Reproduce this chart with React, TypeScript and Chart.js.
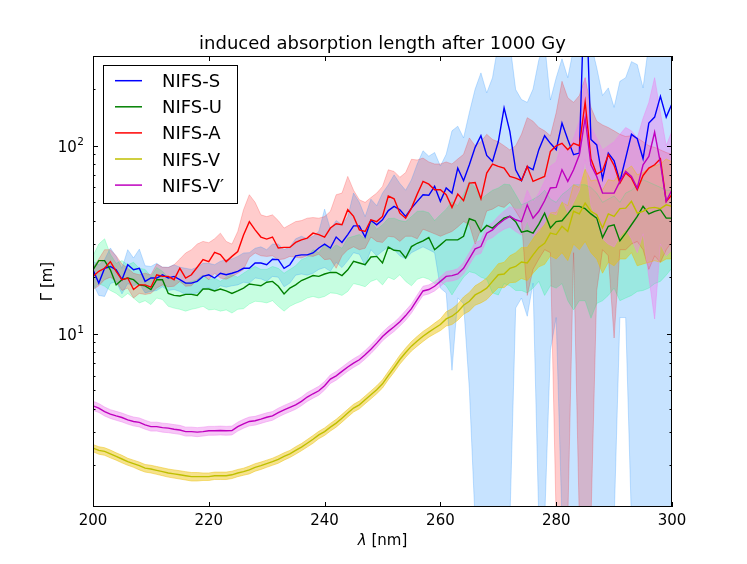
import React, { useEffect, useRef } from 'react';
import Chart from 'chart.js/auto';

// wavelength grid [nm]
const wavelengths = [
  200, 201, 202, 203, 204, 205, 206, 207, 208, 209,
  210, 211, 212, 213, 214, 215, 216, 217, 218, 219,
  220, 221, 222, 223, 224, 225, 226, 227, 228, 229,
  230, 231, 232, 233, 234, 235, 236, 237, 238, 239,
  240, 241, 242, 243, 244, 245, 246, 247, 248, 249,
  250, 251, 252, 253, 254, 255, 256, 257, 258, 259,
  260, 261, 262, 263, 264, 265, 266, 267, 268, 269,
  270, 271, 272, 273, 274, 275, 276, 277, 278, 279,
  280, 281, 282, 283, 284, 285, 286, 287, 288, 289,
  290, 291, 292, 293, 294, 295, 296, 297, 298, 299,
  300,
];

// induced absorption length [m], mean values
const nifsS = [
  21.9, 18.6, 22.3, 22.8, 21.9, 19.4, 23.3, 21.9, 22.3, 19.0,
  19.8, 19.8, 20.6, 19.8, 20.2, 19.4, 18.6, 18.6, 19.0, 20.2,
  20.6, 19.8, 21.0, 20.6, 21.0, 21.5, 22.3, 22.3, 23.8, 23.8,
  23.3, 24.9, 24.8, 22.3, 23.3, 26.0, 26.3, 26.3, 26.9, 28.6,
  30.0, 28.6, 32.7, 30.6, 33.7, 37.5, 37.5, 32.7, 40.1, 38.0,
  40.4, 45.2, 47.6, 45.7, 42.1, 46.6, 50.6, 54.9, 54.5, 60.8,
  50.6, 59.6, 56.0, 76.0, 65.2, 79.2, 98.0, 113, 88.8, 82.5,
  105, 159, 119, 74.5, 65.2, 77.6, 74.5, 95.3, 113, 103,
  95.3, 132, 108, 89.6, 91.4, 900, 108, 101, 66.7, 91.4,
  83.2, 64.6, 86.0, 115, 109, 85.3, 132, 142, 183, 142,
  167,
];
const nifsU = [
  21.9, 24.5, 24.5, 21.9, 18.2, 19.4, 19.8, 19.4, 18.2, 18.0,
  17.2, 19.4, 19.4, 16.4, 16.0, 15.9, 16.2, 16.2, 16.0, 17.3,
  17.3, 16.9, 17.3, 16.9, 16.4, 16.9, 17.5, 18.4, 18.2, 18.0,
  18.8, 19.0, 17.9, 16.3, 17.5, 18.2, 19.2, 19.8, 20.4, 20.2,
  20.8, 21.2, 21.2, 20.4, 21.9, 24.3, 23.8, 23.3, 25.6, 25.8,
  23.8, 28.9, 27.8, 27.6, 25.3, 29.1, 30.3, 31.2, 32.5, 28.0,
  29.7, 31.6, 31.6, 31.6, 33.0, 40.9, 39.9, 35.0, 37.7, 36.5,
  38.8, 41.2, 42.1, 39.5, 34.7, 35.3, 34.3, 38.3, 43.8, 36.5,
  39.5, 39.9, 43.4, 47.6, 47.6, 46.3, 43.4, 41.2, 32.5, 37.3,
  38.0, 31.2, 34.3, 38.0, 42.1, 47.6, 43.4, 44.8, 45.7, 41.2,
  41.2,
];
const nifsA = [
  20.2, 21.5, 22.3, 24.2, 21.5, 19.4, 19.8, 17.2, 18.2, 18.2,
  17.7, 20.6, 20.2, 20.2, 19.4, 22.3, 19.8, 20.6, 22.6, 24.8,
  24.2, 27.1, 26.4, 24.2, 25.8, 27.4, 33.5, 39.5, 35.7, 32.7,
  31.9, 32.7, 28.6, 28.8, 28.8, 30.6, 31.6, 32.3, 34.3, 33.7,
  32.7, 36.5, 38.5, 38.0, 45.7, 42.1, 35.7, 35.0, 40.4, 39.5,
  42.1, 54.0, 52.2, 43.8, 41.2, 46.6, 55.3, 64.6, 62.5, 58.3,
  58.3, 54.9, 47.0, 55.3, 51.0, 63.3, 63.8, 52.2, 71.6, 79.9,
  77.6, 76.0, 68.7, 67.3, 65.2, 77.6, 64.6, 66.7, 68.7, 93.3,
  100, 103, 95.3, 103, 100, 171, 85.3, 70.6, 73.6, 89.6,
  78.6, 63.3, 71.6, 67.3, 58.3, 69.5, 76.0, 79.2, 85.3, 50.6,
  54.9,
];
const nifsV = [
  2.47, 2.40, 2.37, 2.30, 2.23, 2.16, 2.09, 2.04, 1.99, 1.93,
  1.91, 1.88, 1.85, 1.82, 1.80, 1.78, 1.76, 1.74, 1.74, 1.74,
  1.74, 1.76, 1.76, 1.76, 1.78, 1.82, 1.85, 1.89, 1.95, 1.99,
  2.04, 2.09, 2.15, 2.23, 2.30, 2.40, 2.50, 2.62, 2.75, 2.90,
  3.02, 3.19, 3.35, 3.56, 3.79, 4.03, 4.19, 4.46, 4.74, 5.04,
  5.42, 6.00, 6.60, 7.30, 7.95, 8.60, 9.15, 9.70, 10.2, 10.7,
  11.2, 12.0, 12.4, 13.1, 14.2, 14.9, 16.1, 16.7, 17.5, 19.0,
  20.6, 20.8, 22.3, 22.8, 24.1, 23.8, 26.3, 28.8, 30.3, 34.3,
  33.7, 37.3, 35.0, 44.8, 43.4, 49.5, 44.8, 43.0, 36.5, 43.4,
  42.1, 46.3, 46.6, 50.6, 43.8, 44.8, 46.6, 47.0, 46.3, 48.5,
  47.6,
];
const nifsVp = [
  4.14, 4.03, 3.86, 3.74, 3.66, 3.59, 3.49, 3.42, 3.38, 3.28,
  3.21, 3.21, 3.17, 3.15, 3.11, 3.08, 3.02, 3.02, 3.00, 3.02,
  3.05, 3.05, 3.06, 3.05, 3.06, 3.21, 3.32, 3.42, 3.45, 3.52,
  3.60, 3.66, 3.81, 3.94, 4.06, 4.19, 4.37, 4.61, 4.80, 4.98,
  5.29, 5.74, 5.98, 6.31, 6.66, 6.99, 7.28, 7.73, 8.28, 8.92,
  9.68, 10.3, 10.9, 11.6, 12.5, 13.6, 15.2, 16.9, 17.2, 17.9,
  19.0, 20.2, 20.4, 20.8, 22.3, 25.1, 28.3, 29.1, 34.3, 35.7,
  38.3, 40.4, 42.1, 40.4, 39.5, 48.5, 41.2, 44.8, 51.0, 59.6,
  60.0, 74.5, 64.6, 74.5, 89.6, 140, 79.2, 68.7, 56.0, 56.0,
  56.0, 64.6, 73.0, 68.7, 59.6, 79.2, 87.7, 118, 80.9, 50.6,
  58.3,
];

// uncertainty bands (lower / upper); values under 1.2 or over 300 run off the axes
const nifsSLow = [
  18.5, 16.0, 15.8, 18.5, 19.0, 16.3, 18.5, 18.0, 18.5, 16.5,
  16.8, 17.0, 17.8, 17.0, 17.2, 16.8, 16.2, 16.3, 16.5, 17.3,
  17.6, 17.0, 18.0, 17.7, 18.0, 18.2, 18.8, 18.6, 19.8, 19.6,
  19.0, 20.2, 20.0, 17.8, 18.6, 20.5, 20.8, 20.5, 21.0, 22.0,
  22.5, 21.5, 24.0, 22.5, 24.5, 27.0, 26.5, 23.0, 28.0, 26.0,
  27.5, 29.0, 28.0, 26.0, 25.0, 27.0, 28.0, 29.0, 28.0, 27.0,
  17.5, 16.5, 6.4, 15.5, 14.5, 5.1, 1.0, 1.0, 1.0, 1.0,
  1.0, 1.0, 1.0, 13.7, 15.5, 12.4, 18.6, 1.0, 1.0, 8.2,
  12.2, 1.0, 1.0, 1.0, 1.0, 1.0, 1.0, 1.0, 1.0, 1.0,
  1.0, 12.2, 12.2, 1.0, 1.0, 1.0, 1.0, 1.0, 1.0, 1.0,
  1.0,
];
const nifsSHigh = [
  24.3, 23.3, 24.8, 28.6, 25.8, 22.3, 28.0, 25.3, 28.2, 23.0,
  22.8, 23.7, 22.6, 22.6, 23.3, 22.6, 22.3, 22.0, 22.6, 23.7,
  23.7, 23.3, 24.3, 24.8, 25.0, 25.8, 26.9, 27.0, 28.5, 29.0,
  28.0, 30.0, 30.0, 28.0, 29.0, 32.0, 33.0, 32.0, 33.0, 35.0,
  46.0, 36.0, 40.0, 38.0, 42.0, 56.0, 50.0, 42.0, 52.0, 48.0,
  56.0, 62.0, 70.0, 63.0, 58.0, 66.0, 80.0, 94.0, 88.0, 92.0,
  78.0, 90.0, 120, 127, 110, 150, 200, 244, 191, 230,
  350, 350, 350, 199, 176, 170, 200, 286, 350, 175,
  230, 290, 230, 330, 350, 350, 350, 260, 185, 203,
  160, 220, 230, 280, 270, 203, 350, 350, 350, 350,
  350,
];
const nifsULow = [
  17.2, 18.5, 17.9, 17.0, 16.4, 15.5, 16.4, 15.5, 14.6, 15.0,
  14.3, 15.5, 15.2, 14.0, 13.7, 13.5, 13.2, 13.5, 13.7, 14.0,
  13.4, 13.5, 13.2, 13.4, 12.9, 13.5, 13.6, 14.4, 14.9, 14.8,
  14.6, 15.0, 14.0, 13.2, 14.0, 14.5, 14.9, 15.5, 15.8, 15.5,
  15.8, 16.5, 16.4, 16.0, 16.8, 18.5, 18.2, 17.8, 19.0, 19.5,
  18.2, 20.0, 19.4, 20.6, 19.0, 18.0, 19.5, 20.0, 19.5, 18.5,
  19.0, 18.0, 16.1, 18.0, 20.0, 21.4, 21.0, 20.0, 19.5, 16.5,
  16.1, 18.5, 18.0, 17.0, 17.0, 16.5, 17.5, 19.0, 16.0, 18.0,
  17.5, 18.5, 15.0, 13.4, 15.0, 15.0, 12.1, 14.5, 15.0, 16.0,
  17.5, 15.0, 15.5, 16.0, 16.8, 17.0, 17.5, 18.5, 19.0, 20.5,
  22.4,
];
const nifsUHigh = [
  26.0, 30.0, 32.0, 26.5, 23.7, 24.5, 23.3, 24.0, 22.3, 22.0,
  20.2, 22.5, 21.5, 20.0, 19.4, 19.0, 18.6, 19.0, 19.4, 20.5,
  19.4, 19.8, 19.0, 20.0, 20.6, 20.0, 21.0, 22.0, 22.8, 22.0,
  22.0, 22.8, 22.3, 21.0, 22.0, 23.0, 24.8, 25.5, 28.0, 27.0,
  29.7, 28.0, 29.7, 28.5, 32.3, 33.0, 33.7, 32.0, 39.5, 36.0,
  38.0, 41.0, 41.2, 40.0, 39.5, 42.0, 44.8, 45.0, 44.0, 40.0,
  43.0, 46.0, 50.6, 48.0, 55.0, 64.6, 60.0, 52.0, 55.0, 58.0,
  59.6, 62.5, 62.0, 55.0, 48.5, 50.0, 52.0, 54.0, 58.0, 52.0,
  50.0, 55.0, 58.0, 62.0, 62.0, 62.0, 60.0, 56.0, 50.0, 52.0,
  54.0, 50.0, 56.0, 58.0, 62.0, 66.0, 64.0, 62.0, 60.0, 58.0,
  58.0,
];
const nifsALow = [
  17.2, 18.0, 19.4, 20.0, 19.0, 17.0, 17.5, 15.5, 16.4, 16.2,
  16.4, 17.5, 18.2, 17.8, 17.9, 19.0, 17.9, 18.0, 19.4, 20.5,
  19.4, 21.0, 19.8, 19.5, 20.2, 21.0, 22.0, 25.5, 26.9, 26.0,
  25.8, 26.0, 24.8, 25.0, 25.8, 25.5, 25.3, 26.0, 25.8, 26.5,
  24.8, 25.0, 22.3, 26.0, 28.0, 29.0, 28.0, 28.5, 32.7, 31.0,
  30.6, 33.0, 32.7, 31.0, 33.0, 33.0, 32.0, 36.0, 35.0, 34.0,
  33.0, 34.0, 35.0, 37.0, 39.5, 38.0, 30.0, 36.0, 45.0, 46.0,
  48.0, 47.0, 50.0, 45.0, 40.0, 16.0, 22.0, 25.0, 28.0, 27.0,
  1.0, 1.0, 1.0, 27.0, 1.0, 1.0, 1.0, 17.0, 28.0, 26.0,
  9.5, 28.0, 28.0, 30.0, 31.0, 28.0, 22.0, 26.0, 24.0, 28.0,
  31.0,
];
const nifsAHigh = [
  22.5, 25.0, 28.0, 28.0, 26.0, 23.5, 22.3, 21.0, 20.6, 21.0,
  20.6, 23.5, 22.6, 22.5, 23.3, 25.0, 26.9, 28.0, 30.0, 31.0,
  30.5, 32.0, 34.3, 31.0, 30.0, 35.0, 45.7, 54.9, 50.0, 42.9,
  42.0, 42.9, 40.0, 36.5, 38.0, 39.5, 40.0, 41.2, 41.5, 41.2,
  42.0, 44.8, 54.9, 56.0, 68.7, 58.0, 51.6, 50.0, 53.0, 56.0,
  60.8, 74.5, 73.0, 68.0, 72.0, 84.7, 84.0, 86.0, 82.0, 80.0,
  80.0, 82.0, 80.0, 85.0, 90.0, 110, 100, 105, 115, 108,
  105, 100, 95.0, 100, 115, 141, 135, 125, 120, 113,
  150, 220, 180, 170, 185, 230, 160, 135, 129, 125,
  120, 115, 112, 113, 110, 105, 100, 98.0, 95.0, 92.0,
  90.0,
];
const nifsVLow = [
  2.36, 2.29, 2.26, 2.19, 2.13, 2.06, 2.00, 1.95, 1.89, 1.84,
  1.82, 1.79, 1.76, 1.73, 1.71, 1.69, 1.67, 1.65, 1.65, 1.66,
  1.66, 1.68, 1.68, 1.68, 1.70, 1.74, 1.77, 1.80, 1.86, 1.90,
  1.95, 2.00, 2.05, 2.13, 2.20, 2.29, 2.39, 2.50, 2.62, 2.77,
  2.88, 3.04, 3.19, 3.39, 3.61, 3.84, 3.99, 4.25, 4.51, 4.80,
  5.15, 5.70, 6.25, 6.90, 7.50, 8.10, 8.60, 9.10, 9.60, 10.0,
  10.4, 11.0, 11.2, 11.8, 12.7, 13.2, 14.2, 14.6, 15.2, 16.4,
  17.6, 17.6, 18.7, 18.8, 19.7, 19.2, 21.0, 22.7, 23.4, 26.0,
  25.0, 27.0, 24.5, 30.0, 28.0, 31.0, 27.0, 25.0, 21.0, 24.0,
  23.0, 25.0, 25.0, 27.0, 23.0, 23.5, 24.0, 24.5, 24.0, 25.0,
  25.0,
];
const nifsVHigh = [
  2.58, 2.51, 2.48, 2.41, 2.33, 2.26, 2.18, 2.13, 2.08, 2.02,
  2.00, 1.97, 1.94, 1.91, 1.89, 1.87, 1.85, 1.83, 1.83, 1.82,
  1.82, 1.84, 1.84, 1.84, 1.86, 1.90, 1.93, 1.98, 2.04, 2.08,
  2.13, 2.18, 2.25, 2.33, 2.40, 2.51, 2.61, 2.74, 2.88, 3.03,
  3.16, 3.34, 3.51, 3.73, 3.97, 4.22, 4.39, 4.67, 4.97, 5.29,
  5.69, 6.30, 6.95, 7.70, 8.40, 9.10, 9.70, 10.3, 10.8, 11.4,
  12.0, 13.1, 13.6, 14.4, 15.7, 16.6, 18.0, 18.8, 19.8, 21.6,
  23.6, 24.0, 26.0, 27.0, 28.8, 28.8, 32.0, 35.5, 38.0, 44.0,
  44.0, 50.0, 48.0, 62.0, 60.0, 75.0, 65.0, 66.0, 58.0, 66.0,
  65.0, 72.0, 74.0, 78.0, 70.0, 72.0, 76.0, 78.0, 80.0, 85.0,
  82.0,
];
const nifsVpLow = [
  3.92, 3.82, 3.66, 3.55, 3.47, 3.40, 3.31, 3.24, 3.20, 3.11,
  3.04, 3.04, 3.00, 2.98, 2.95, 2.92, 2.86, 2.86, 2.84, 2.86,
  2.89, 2.89, 2.90, 2.89, 2.90, 3.04, 3.15, 3.24, 3.27, 3.34,
  3.41, 3.47, 3.61, 3.74, 3.85, 3.97, 4.15, 4.37, 4.55, 4.72,
  5.02, 5.45, 5.67, 5.99, 6.32, 6.63, 6.91, 7.34, 7.85, 8.46,
  9.18, 9.75, 10.3, 11.0, 11.8, 12.9, 14.4, 16.0, 16.3, 16.9,
  17.9, 19.0, 19.1, 19.5, 20.8, 23.3, 26.2, 26.8, 31.5, 32.5,
  34.5, 36.0, 37.0, 35.0, 33.5, 40.0, 33.0, 35.0, 39.0, 44.0,
  43.0, 52.0, 44.0, 50.0, 58.0, 85.0, 48.0, 40.0, 32.0, 30.0,
  29.0, 33.0, 36.0, 32.0, 27.0, 34.0, 20.0, 12.0, 30.0, 26.0,
  28.0,
];
const nifsVpHigh = [
  4.38, 4.26, 4.08, 3.95, 3.87, 3.79, 3.69, 3.61, 3.57, 3.47,
  3.39, 3.39, 3.35, 3.33, 3.29, 3.26, 3.19, 3.19, 3.17, 3.19,
  3.22, 3.22, 3.23, 3.22, 3.23, 3.39, 3.51, 3.61, 3.64, 3.72,
  3.80, 3.86, 4.02, 4.16, 4.29, 4.42, 4.61, 4.87, 5.06, 5.26,
  5.58, 6.05, 6.31, 6.65, 7.02, 7.37, 7.68, 8.15, 8.73, 9.40,
  10.2, 10.9, 11.5, 12.3, 13.3, 14.4, 16.1, 17.9, 18.2, 18.9,
  20.1, 21.4, 21.7, 22.2, 23.9, 27.0, 30.5, 31.5, 37.3, 39.0,
  42.2, 45.0, 47.5, 46.0, 46.0, 58.0, 50.0, 56.0, 65.0, 78.0,
  82.0, 105, 92.0, 110, 135, 230, 125, 110, 95.0, 100,
  105, 115, 125, 120, 110, 140, 170, 230, 150, 100,
  120,
];

const seriesNames = ['NIFS-S', 'NIFS-U', 'NIFS-A', 'NIFS-V', 'NIFS-V\u2032'];
const xTickValues = [200, 220, 240, 260, 280, 300];
const yMajorTicks = [10, 100];
const yMinorTicks = [2, 3, 4, 5, 6, 7, 8, 9, 20, 30, 40, 50, 60, 70, 80, 90, 200, 300];

const lineColors = ['#0000ff', '#008000', '#ff0000', '#bfbf00', '#bf00bf'];
const bandColors = [
  'rgba(30,144,255,0.25)',
  'rgba(0,250,120,0.22)',
  'rgba(255,0,0,0.2)',
  'rgba(235,190,0,0.45)',
  'rgba(238,130,238,0.45)',
];

const FONT = '"DejaVu Sans", "Liberation Sans", sans-serif';

const toPoints = (ys: number[]) => wavelengths.map((x, i) => ({ x, y: ys[i] }));

// axes frame, inward ticks, labels, title and legend
const decorPlugin = {
  id: 'decor',
  afterDraw(chart: any) {
    const { ctx, chartArea: a, scales } = chart;
    const xs = scales.x;
    const ys = scales.y;
    ctx.save();
    ctx.strokeStyle = '#000';
    ctx.lineWidth = 1;
    ctx.strokeRect(a.left + 0.5, a.top + 0.5, a.right - a.left - 1, a.bottom - a.top - 1);

    ctx.beginPath();
    xTickValues.forEach((v) => {
      const px = Math.round(xs.getPixelForValue(v)) + 0.5;
      ctx.moveTo(px, a.bottom);
      ctx.lineTo(px, a.bottom - 5);
      ctx.moveTo(px, a.top);
      ctx.lineTo(px, a.top + 5);
    });
    const yTick = (v: number, len: number) => {
      const py = Math.round(ys.getPixelForValue(v)) + 0.5;
      ctx.moveTo(a.left, py);
      ctx.lineTo(a.left + len, py);
      ctx.moveTo(a.right, py);
      ctx.lineTo(a.right - len, py);
    };
    yMajorTicks.forEach((v) => yTick(v, 5));
    yMinorTicks.forEach((v) => yTick(v, 2.5));
    ctx.stroke();

    ctx.fillStyle = '#000';
    ctx.font = `15px ${FONT}`;
    ctx.textAlign = 'center';
    ctx.textBaseline = 'alphabetic';
    xTickValues.forEach((v) => {
      ctx.fillText(String(v), xs.getPixelForValue(v), a.bottom + 18);
    });

    yMajorTicks.forEach((v) => {
      const py = ys.getPixelForValue(v);
      const exp = String(Math.round(Math.log10(v)));
      ctx.font = `10.5px ${FONT}`;
      const ew = ctx.measureText(exp).width;
      ctx.textAlign = 'right';
      ctx.fillText(exp, a.left - 9, py - 1);
      ctx.font = `15px ${FONT}`;
      ctx.fillText('10', a.left - 9 - ew - 0.5, py + 6);
    });

    // axis titles
    ctx.font = `italic 15px ${FONT}`;
    const lam = '\u03bb';
    const rest = ' [nm]';
    const lw = ctx.measureText(lam).width;
    ctx.font = `15px ${FONT}`;
    const rw = ctx.measureText(rest).width;
    const cx = (a.left + a.right) / 2;
    const x0 = cx - (lw + rw) / 2;
    ctx.textAlign = 'left';
    ctx.font = `italic 15px ${FONT}`;
    ctx.fillText(lam, x0, 545);
    ctx.font = `15px ${FONT}`;
    ctx.fillText(rest, x0 + lw, 545);

    ctx.save();
    ctx.translate(52, (a.top + a.bottom) / 2);
    ctx.rotate(-Math.PI / 2);
    ctx.textAlign = 'center';
    ctx.fillText('\u0393 [m]', 0, 0);
    ctx.restore();

    // title
    ctx.font = `18px ${FONT}`;
    ctx.textAlign = 'center';
    ctx.fillText('induced absorption length after 1000 Gy', cx, 49);

    // legend
    const bx = 103.5;
    const by = 65.5;
    ctx.fillStyle = '#fff';
    ctx.fillRect(bx, by, 134, 138);
    ctx.strokeStyle = '#000';
    ctx.lineWidth = 1;
    ctx.strokeRect(bx, by, 134, 138);
    ctx.font = `18px ${FONT}`;
    ctx.textAlign = 'left';
    seriesNames.forEach((name, i) => {
      const ry = 80.7 + i * 26.1;
      ctx.strokeStyle = lineColors[i];
      ctx.lineWidth = 1.5;
      ctx.beginPath();
      ctx.moveTo(115, ry);
      ctx.lineTo(142, ry);
      ctx.stroke();
      ctx.fillStyle = '#000';
      ctx.fillText(name, 162, ry + 6.5);
    });
    ctx.restore();
  },
};

export default function App() {
  const canvasRef = useRef<HTMLCanvasElement>(null);

  useEffect(() => {
    if (!canvasRef.current) return;

    const means = [nifsS, nifsU, nifsA, nifsV, nifsVp];
    const lows = [nifsSLow, nifsULow, nifsALow, nifsVLow, nifsVpLow];
    const highs = [nifsSHigh, nifsUHigh, nifsAHigh, nifsVHigh, nifsVpHigh];

    // Chart.js paints the last dataset first, so the series go in reverse:
    // NIFS-S band ends up at the bottom and the NIFS-V' line on top.
    const datasets: any[] = [];
    for (let i = means.length - 1; i >= 0; i--) {
      datasets.push({
        label: seriesNames[i],
        data: toPoints(means[i]),
        borderColor: lineColors[i],
        borderWidth: 1.4,
        pointRadius: 0,
        fill: false,
      });
    }
    for (let i = means.length - 1; i >= 0; i--) {
      datasets.push({
        label: `${seriesNames[i]} low`,
        data: toPoints(lows[i]),
        borderColor: bandColors[i],
        borderWidth: 1,
        pointRadius: 0,
        fill: false,
      });
      datasets.push({
        label: `${seriesNames[i]} high`,
        data: toPoints(highs[i]),
        borderColor: bandColors[i],
        backgroundColor: bandColors[i],
        borderWidth: 1,
        pointRadius: 0,
        fill: '-1',
      });
    }

    const chart = new Chart(canvasRef.current, {
      type: 'line',
      data: { datasets },
      options: {
        responsive: false,
        animation: false,
        events: [],
        layout: { padding: { left: 93, top: 56, right: 75, bottom: 57 } },
        plugins: {
          legend: { display: false },
          tooltip: { enabled: false },
          title: { display: false },
          filler: { propagate: false, drawTime: 'beforeDatasetsDraw' },
        },
        scales: {
          x: { type: 'linear', min: 200, max: 300, display: false },
          y: { type: 'logarithmic', min: 1.2, max: 300, display: false },
        },
      },
      plugins: [decorPlugin],
    });

    return () => {
      chart.destroy();
    };
  }, []);

  return (
    <div style={{ position: 'absolute', left: 0, top: 0, width: 747, height: 564, background: '#fff' }}>
      <canvas ref={canvasRef} width={747} height={564}></canvas>
    </div>
  );
}
